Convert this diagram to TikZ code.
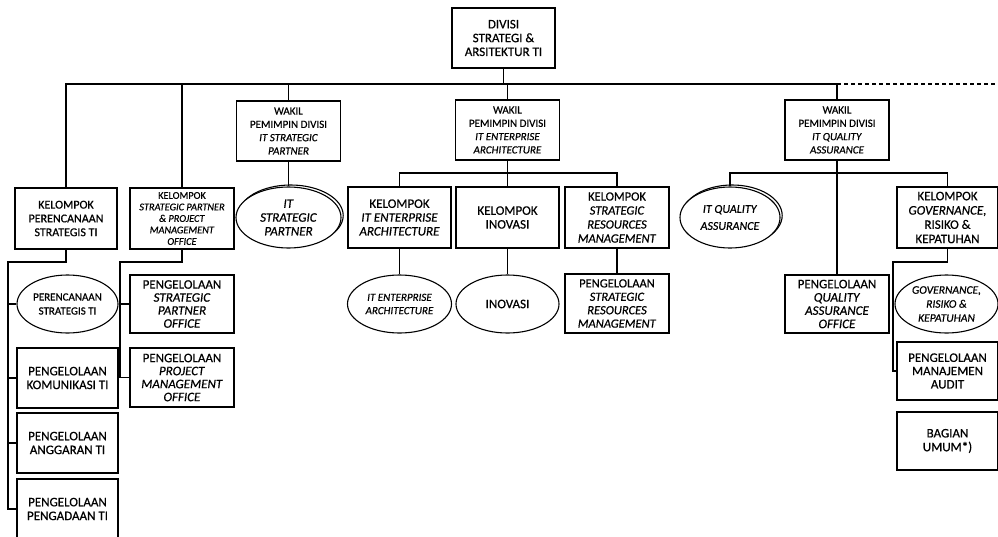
\documentclass[tikz,border=0pt]{standalone}
\usepackage{fontspec}
\setmainfont{Carlito}[UprightFeatures={FakeBold=0.6},ItalicFeatures={FakeBold=0.6}]
\usetikzlibrary{arrows,arrows.meta,positioning,shapes,shapes.geometric,shadows}

\begin{document}
\begin{tikzpicture}[x=1pt,y=-1pt]
		\tikzstyle{unit}=[draw,line width=1.1pt,align=center,inner sep=1pt,minimum width=102pt,minimum height=60pt,font=\fontsize{13}{13.8}\selectfont]
		\tikzstyle{wakil}=[unit,minimum width=104pt,font=\fontsize{11}{13.3}\selectfont]
		\tikzstyle{fungsi}=[unit,ellipse,minimum height=58pt,fill=white]
		\tikzstyle{dobel}=[fungsi,minimum height=61pt,copy shadow={shadow xshift=2.2pt,shadow yshift=2pt}]
		\tikzstyle{link}=[line width=1.1pt]
		
		\useasboundingbox (0,0) rectangle (998,536);
		
		\node[unit,minimum width=103pt] (divisi) at (503.5,38) {DIVISI\\STRATEGI \&\\ARSITEKTUR TI};
		
		\node[wakil] (wsp) at (288.5,131) {WAKIL\\PEMIMPIN DIVISI\\\textit{IT STRATEGIC}\\\textit{PARTNER}};
		\node[wakil] (wea) at (507.5,130) {WAKIL\\PEMIMPIN DIVISI\\\textit{IT ENTERPRISE}\\\textit{ARCHITECTURE}};
		\node[wakil] (wqa) at (837,130) {WAKIL\\PEMIMPIN DIVISI\\\textit{IT QUALITY}\\\textit{ASSURANCE}};
		
		% kelompok
		\node[unit,minimum height=61pt,font=\fontsize{12}{13.8}\selectfont] (kpst) at (66,218.5) {KELOMPOK\\PERENCANAAN\\STRATEGIS TI};
		\node[unit,minimum width=104pt,minimum height=61pt,font=\fontsize{10.3}{11.5}\selectfont] (kspm) at (182,218.5) {KELOMPOK\\\textit{STRATEGIC PARTNER}\\\textit{\& PROJECT}\\\textit{MANAGEMENT}\\\textit{OFFICE}};
		\node[dobel,minimum width=105pt] (itsp) at (288.5,217.5) {\textit{IT}\\\textit{STRATEGIC}\\\textit{PARTNER}};
		\node[unit,minimum width=103pt,minimum height=61pt] (kea) at (399.5,217.5) {KELOMPOK\\\textit{IT ENTERPRISE}\\\textit{ARCHITECTURE}};
		\node[unit,minimum width=103pt,minimum height=61pt] (kin) at (507.5,217.5) {KELOMPOK\\INOVASI};
		\node[unit,minimum width=104pt,minimum height=61pt,font=\fontsize{12.5}{14}\selectfont] (ksrm) at (617,217.5) {KELOMPOK\\\textit{STRATEGIC}\\\textit{RESOURCES}\\\textit{MANAGEMENT}};
		\node[dobel,minimum width=100pt,font=\fontsize{12}{17}\selectfont] (itqa) at (730,217.5) {\textit{IT QUALITY}\\\textit{ASSURANCE}};
		\node[unit,minimum width=101pt,minimum height=61pt,font=\fontsize{13}{14.3}\selectfont] (kgrk) at (947.5,217.5) {KELOMPOK\\\textit{GOVERNANCE,}\\RISIKO \&\\KEPATUHAN};
		
		% pengelolaan
		\node[fungsi,minimum width=101pt,font=\fontsize{11}{14}\selectfont] (pst) at (67.5,304) {PERENCANAAN\\STRATEGIS TI};
		\node[unit,minimum width=104pt,minimum height=58pt,font=\fontsize{13}{13}\selectfont] (psp) at (182,304) {PENGELOLAAN\\\textit{STRATEGIC}\\\textit{PARTNER}\\\textit{OFFICE}};
		\node[fungsi,minimum width=104pt,font=\fontsize{11}{13.3}\selectfont] (ea) at (399.5,304) {\textit{IT ENTERPRISE}\\\textit{ARCHITECTURE}};
		\node[fungsi,minimum width=103pt] (ino) at (507.5,304) {INOVASI};
		\node[unit,minimum width=104pt,minimum height=59pt,font=\fontsize{12.5}{13.4}\selectfont] (psrm) at (617,303.5) {PENGELOLAAN\\\textit{STRATEGIC}\\\textit{RESOURCES}\\\textit{MANAGEMENT}};
		\node[unit,minimum width=104pt,minimum height=58pt,font=\fontsize{13}{13.3}\selectfont] (pqa) at (837,304) {PENGELOLAAN\\\textit{QUALITY}\\\textit{ASSURANCE}\\\textit{OFFICE}};
		\node[fungsi,minimum width=103pt,font=\fontsize{11.5}{14}\selectfont] (grk) at (946.5,304) {\textit{GOVERNANCE,}\\\textit{RISIKO \&}\\\textit{KEPATUHAN}};
		
		\node[unit,minimum width=101pt] (pkom) at (67.5,378) {PENGELOLAAN\\KOMUNIKASI TI};
		\node[unit,minimum width=101pt] (pang) at (67.5,443) {PENGELOLAAN\\ANGGARAN TI};
		\node[unit,minimum width=101pt] (ppeng) at (67.5,509) {PENGELOLAAN\\PENGADAAN TI};
		\node[unit,minimum width=104pt,minimum height=59pt,font=\fontsize{13}{13}\selectfont] (ppmo) at (182,377.5) {PENGELOLAAN\\\textit{PROJECT}\\\textit{MANAGEMENT}\\\textit{OFFICE}};
		\node[unit,minimum width=101pt,minimum height=58pt,font=\fontsize{13}{13.3}\selectfont] (pma) at (947.5,371) {PENGELOLAAN\\MANAJEMEN\\AUDIT};
		\node[unit,minimum width=101pt,minimum height=58pt] (umum) at (947.5,441) {BAGIAN\\UMUM*)};
		
		% garis
		\coordinate (bus) at (0,84);
		\coordinate (busend) at (998,84);
		\coordinate (eabus) at (0,173);
		\coordinate (lcol) at (8,262);
		\coordinate (spcol) at (120,262);
		\coordinate (gcol) at (893,262);
		
		\draw [link] (divisi.south) -- (divisi.south |- bus);
		\draw [link] (kpst.north) |- (wqa.north |- bus);
		\draw [link,dash pattern=on 4pt off 3pt] (wqa.north |- bus) -- (busend);
		\foreach \n in {kspm,wsp,wea,wqa}
			\draw [link] (\n.north) -- (\n.north |- bus);
		
		\draw [link] (wsp.south) -- (itsp.north);
		\draw [link] (wea.south) -- (kin.north);
		\draw [link] (kea.north) |- (ksrm.north |- eabus) -- (ksrm.north);
		\draw [link] (kea.south) -- (ea.north);
		\draw [link] (kin.south) -- (ino.north);
		\draw [link] (ksrm.south) -- (psrm.north);
		
		\draw [link] (wqa.south) -- (pqa.north);
		\draw [link] (itqa.north) |- (kgrk.north |- eabus) -- (kgrk.north);
		
		\draw [link] (kpst.south) |- (lcol) |- (ppeng.west);
		\foreach \n in {pst,pkom,pang}
			\draw [link] (\n.west -| lcol) -- (\n.west);
		\draw [link] (kspm.south) |- (spcol) |- (ppmo.west);
		\draw [link] (psp.west -| spcol) -- (psp.west);
		\draw [link] (kgrk.south) |- (gcol) |- (pma.west);
		\draw [link] (grk.west -| gcol) -- (grk.west);
\end{tikzpicture}
\end{document}
